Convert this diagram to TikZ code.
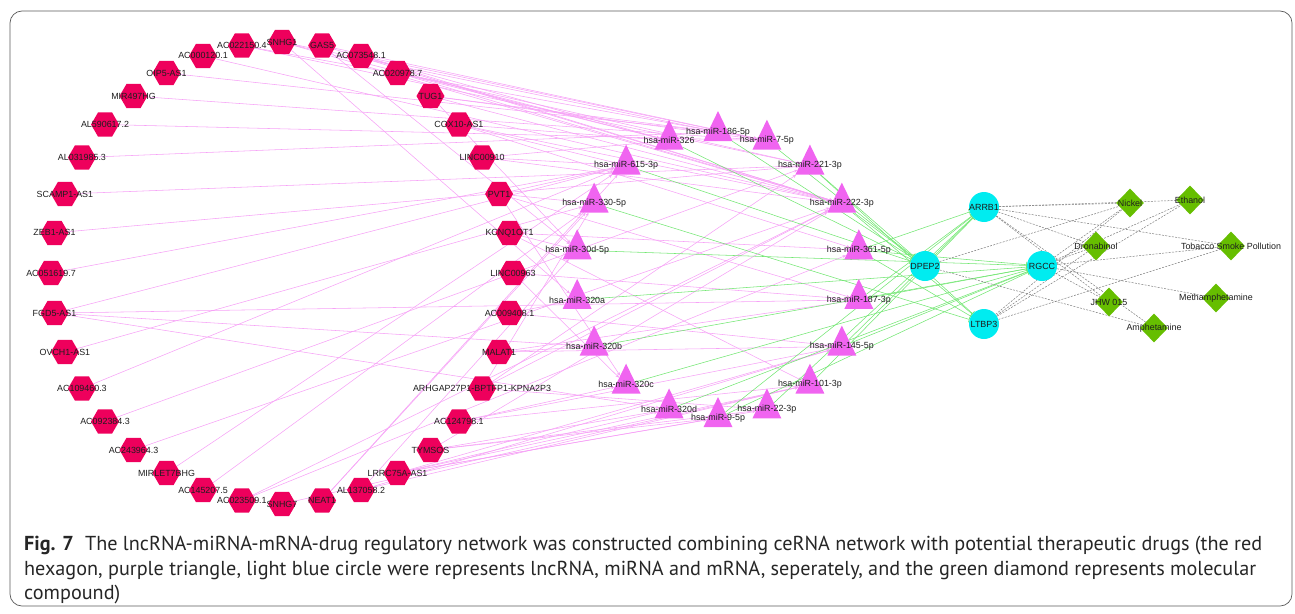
\documentclass[tikz,border=0pt]{standalone}
\usepackage{fontspec}
\setmainfont{Liberation Sans}
\newfontfamily\capfont{PT Sans}
\usetikzlibrary{shapes.geometric,arrows.meta,backgrounds}
\definecolor{lncfill}{RGB}{238,0,92}
\definecolor{mirfill}{RGB}{240,100,240}
\definecolor{mrnafill}{RGB}{0,236,240}
\definecolor{drugfill}{RGB}{102,190,0}
\definecolor{pinkedge}{RGB}{246,162,246}
\definecolor{greenedge}{RGB}{115,230,115}
\definecolor{dashedge}{RGB}{125,125,125}
\definecolor{labtext}{RGB}{30,30,30}
\definecolor{framecol}{RGB}{90,90,90}
\tikzset{
 lnc/.style={regular polygon, regular polygon sides=6, minimum size=28pt, inner sep=0pt, fill=lncfill, draw=none},
 mir/.style={isosceles triangle, isosceles triangle stretches, shape border rotate=90, minimum width=29pt, minimum height=30pt, inner sep=0pt, fill=mirfill},
 mrna/.style={circle, minimum size=30pt, inner sep=0pt, fill=mrnafill},
 drug/.style={diamond, minimum width=28pt, minimum height=29pt, inner sep=0pt, fill=drugfill},
 lab/.style={font=\fontsize{8.9}{10}\selectfont, text=labtext, inner sep=0pt},
 pe/.style={draw=pinkedge, line width=0.55pt, -{Stealth[length=3.5pt,width=3pt]}},
 ge/.style={draw=greenedge, line width=0.55pt, -{Bar[width=6pt]}},
 de/.style={draw=dashedge, line width=0.5pt, dash pattern=on 2pt off 1.3pt},
 captext/.style={font=\capfont\fontsize{20.2}{24}\selectfont, text=black!85, anchor=base west, inner sep=0pt},
}
\begin{document}
\begin{tikzpicture}[x=1pt,y=-1pt]
\useasboundingbox (0,0) rectangle (1295,613);
\draw[framecol, line width=0.7pt, rounded corners=12pt] (10,11) rectangle (1292,606);
% lncRNA circle
\foreach \t [count=\j from 0] in {SNHG1,GAS5,AC073548.1,AC020978.7,TUG1,COX10-AS1,LINC00910,PVT1,KCNQ1OT1,LINC00963,AC009408.1,MALAT1,ARHGAP27P1-BPTFP1-KPNA2P3,AC124798.1,TYMSOS,LRRC75A-AS1,AL137058.2,NEAT1,SNHG7,AC023509.1,AC145207.5,MIRLET7BHG,AC243964.3,AC092384.3,AC109460.3,OVCH1-AS1,FGD5-AS1,AC051619.7,ZEB1-AS1,SCAMP1-AS1,AL031985.3,AL590617.2,MIR497HG,OIP5-AS1,AC000120.1,AC022150.4}{
  \node[lnc] (L\j) at ({282+231*cos(90-10*\j)},{273-231*sin(90-10*\j)}) {};
  \node[lab] (Lt\j) at (L\j.center) {\t};
}
% miRNA circle
\foreach \t [count=\j from 0] in {hsa-miR-186-5p,hsa-miR-7-5p,hsa-miR-221-3p,hsa-miR-222-3p,hsa-miR-361-5p,hsa-miR-187-3p,hsa-miR-145-5p,hsa-miR-101-3p,hsa-miR-22-3p,hsa-miR-9-5p,hsa-miR-320d,hsa-miR-320c,hsa-miR-320b,hsa-miR-320a,hsa-miR-30d-5p,hsa-miR-330-5p,hsa-miR-615-3p,hsa-miR-326}{
  \node[mir] (M\j) at ({718+143*cos(90-20*\j)},{275-143*sin(90-20*\j)}) {};
  \node[lab] (Mt\j) at (M\j.center) {\t};
}
% mRNA
\node[mrna] (arrb) at (984,207) {}; \node[lab] (arrbt) at (arrb) {ARRB1};
\node[mrna] (dpep) at (925,266) {}; \node[lab] (dpept) at (dpep) {DPEP2};
\node[mrna] (rgcc) at (1042,266) {}; \node[lab] (rgcct) at (rgcc) {RGCC};
\node[mrna] (ltbp) at (984,324) {}; \node[lab] (ltbpt) at (ltbp) {LTBP3};
% drugs
\node[drug] (nick) at (1130,203) {}; \node[lab] (nickt) at (nick) {Nickel};
\node[drug] (etha) at (1190,200) {}; \node[lab] (ethat) at (etha) {Ethanol};
\node[drug] (dron) at (1096,246) {}; \node[lab] (dront) at (dron) {Dronabinol};
\node[drug] (toba) at (1231,246) {}; \node[lab] (tobat) at (toba) {Tobacco Smoke Pollution};
\node[drug] (meth) at (1216,298) {}; \node[lab] (metht) at (meth) {Methamphetamine};
\node[drug] (jhw) at (1109,302) {}; \node[lab] (jhwt) at (jhw) {JHW 015};
\node[drug] (amph) at (1154,328) {}; \node[lab] (ampht) at (amph) {Amphetamine};
% edges
\begin{scope}[on background layer]
\foreach \a/\b in {35/1,35/2,34/3,33/0,32/1,31/1,30/0,29/2,28/2,27/16,26/16,26/5,26/12,26/10,25/15,24/16,23/2,22/3,21/16,20/15,19/3,19/4,18/7,17/16,17/15,16/14,16/6,16/7,15/9,15/8,15/10,15/7,15/6,14/10,14/9,14/8,14/3,13/11,13/6,13/7,12/8,12/3,12/2,12/15,11/12,11/6,11/5,10/6,10/13,9/5,9/11,8/14,8/4,8/7,7/16,7/15,7/5,7/11,6/16,6/3,6/17,5/16,5/17,5/3,5/4,4/0,4/1,4/3,4/14,3/17,3/3,3/2,2/17,2/1,2/3,1/1,1/3,1/14,0/17,0/0,0/3,0/13}
  \draw[pe] (L\a) -- (M\b);
\foreach \a/\b in {0/dpep,1/dpep,2/dpep,2/ltbp,3/dpep,3/ltbp,4/arrb,4/rgcc,4/ltbp,5/rgcc,5/arrb,6/arrb,6/rgcc,7/arrb,8/arrb,9/rgcc,9/arrb,10/rgcc,11/rgcc,12/rgcc,13/rgcc,14/rgcc,15/ltbp,16/dpep,17/dpep}
  \draw[ge] (M\a) -- (\b);
\foreach \a/\b in {arrb/nick,arrb/etha,arrb/dron,arrb/toba,arrb/jhw,arrb/amph,dpep/nick,dpep/amph,rgcc/nick,rgcc/etha,rgcc/dron,rgcc/toba,rgcc/meth,rgcc/jhw,ltbp/nick,ltbp/etha,ltbp/dron,ltbp/toba}
  \draw[de] (\a) -- (\b);
\end{scope}
% caption
\node[captext] (cap1) at (24,550) {\textbf{Fig. 7}\hspace{0.55em}The lncRNA-miRNA-mRNA-drug regulatory network was constructed combining ceRNA network with potential therapeutic drugs (the red};
\node[captext] (cap2) at (24,575) {hexagon, purple triangle, light blue circle were represents lncRNA, miRNA and mRNA, seperately, and the green diamond represents molecular};
\node[captext] (cap3) at (24,599) {compound)};
\end{tikzpicture}
\end{document}
